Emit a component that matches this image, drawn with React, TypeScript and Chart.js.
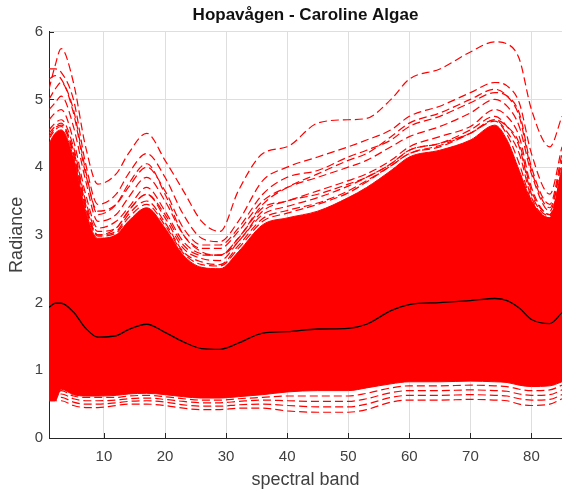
import React, { useEffect, useRef } from "react";
import { Chart, registerables } from "chart.js";

Chart.register(...registerables);

// spectral band positions where values were read
const bands = [1, 2, 3, 5, 7, 9, 12, 14, 17, 20, 23, 26, 29, 32, 36, 40, 45, 50, 53, 57, 60, 65, 70, 74, 76, 78, 80, 83, 85];

// mean spectrum (black line)
const meanRadiance = [1.93, 1.99, 1.99, 1.86, 1.62, 1.49, 1.51, 1.6, 1.68, 1.56, 1.42, 1.32, 1.31, 1.4, 1.55, 1.57, 1.61, 1.62, 1.68, 1.88, 1.97, 2.0, 2.03, 2.06, 2.03, 1.92, 1.75, 1.69, 1.85];

// dense core of spectra (upper / lower edges)
const coreUpper = [4.35, 4.5, 4.55, 4.15, 3.35, 2.95, 3.0, 3.2, 3.4, 3.1, 2.7, 2.52, 2.5, 2.75, 3.15, 3.25, 3.35, 3.55, 3.7, 3.95, 4.15, 4.25, 4.4, 4.62, 4.4, 3.95, 3.5, 3.25, 4.0];
const coreLower = [0.55, 0.55, 0.72, 0.64, 0.62, 0.62, 0.63, 0.65, 0.66, 0.64, 0.61, 0.59, 0.59, 0.61, 0.64, 0.68, 0.7, 0.7, 0.74, 0.8, 0.83, 0.83, 0.84, 0.83, 0.82, 0.78, 0.76, 0.77, 0.83];

// individual bright spectra above the core
const spec1 = [5.15, 5.5, 5.75, 5.25, 4.3, 3.75, 3.9, 4.2, 4.5, 4.1, 3.65, 3.2, 3.05, 3.65, 4.2, 4.3, 4.65, 4.7, 4.72, 5.0, 5.3, 5.45, 5.7, 5.85, 5.82, 5.6, 4.85, 4.3, 4.75];
const spec2 = [5.45, 5.45, 5.4, 5.0, 4.05, 3.45, 3.6, 3.9, 4.2, 3.85, 3.3, 2.95, 2.9, 3.2, 3.8, 4.0, 4.15, 4.3, 4.4, 4.55, 4.75, 4.9, 5.1, 5.25, 5.2, 4.95, 4.2, 3.6, 4.3];
const spec3 = [5.0, 5.15, 5.25, 4.8, 3.9, 3.35, 3.45, 3.7, 4.0, 3.65, 3.1, 2.85, 2.85, 3.1, 3.6, 3.85, 3.95, 4.15, 4.25, 4.4, 4.6, 4.75, 4.95, 5.1, 5.05, 4.8, 4.0, 3.45, 4.2];
const spec4 = [4.85, 4.95, 5.05, 4.6, 3.8, 3.2, 3.3, 3.55, 3.85, 3.5, 3.0, 2.8, 2.8, 3.05, 3.5, 3.7, 3.85, 4.0, 4.1, 4.3, 4.45, 4.6, 4.8, 5.0, 4.9, 4.6, 3.9, 3.35, 4.1];
const spec5 = [4.7, 4.8, 4.85, 4.4, 3.6, 3.1, 3.2, 3.4, 3.7, 3.35, 2.9, 2.72, 2.7, 2.95, 3.4, 3.5, 3.65, 3.8, 3.9, 4.1, 4.3, 4.45, 4.6, 4.85, 4.75, 4.45, 3.7, 3.3, 3.95];
const spec6 = [4.55, 4.65, 4.7, 4.3, 3.5, 3.05, 3.1, 3.35, 3.6, 3.25, 2.8, 2.65, 2.62, 2.9, 3.3, 3.42, 3.55, 3.72, 3.85, 4.05, 4.25, 4.35, 4.55, 4.75, 4.6, 4.3, 3.6, 3.28, 3.9];
const spec7 = [4.45, 4.58, 4.62, 4.25, 3.45, 3.0, 3.05, 3.3, 3.5, 3.18, 2.75, 2.6, 2.56, 2.84, 3.24, 3.36, 3.47, 3.65, 3.8, 4.02, 4.2, 4.3, 4.5, 4.7, 4.52, 4.2, 3.55, 3.25, 3.85];
const spec8 = [4.42, 4.55, 4.6, 4.2, 3.4, 2.98, 3.03, 3.25, 3.45, 3.14, 2.73, 2.56, 2.54, 2.8, 3.2, 3.32, 3.45, 3.62, 3.78, 4.02, 4.2, 4.32, 4.5, 4.68, 4.48, 4.05, 3.5, 3.24, 3.9];
const spec9 = [4.5, 4.6, 4.65, 4.2, 3.4, 3.0, 3.1, 3.35, 3.6, 3.3, 2.85, 2.7, 2.7, 2.95, 3.45, 3.7, 3.9, 4.1, 4.2, 4.45, 4.65, 4.8, 5.0, 5.15, 5.05, 4.75, 3.95, 3.4, 4.1];
const spec10 = [5.3, 5.35, 5.3, 4.85, 3.95, 3.3, 3.45, 3.75, 4.05, 3.6, 3.0, 2.75, 2.7, 2.9, 3.35, 3.5, 3.6, 3.75, 3.85, 4.05, 4.25, 4.35, 4.5, 4.7, 4.6, 4.35, 3.65, 3.3, 3.9];

// individual dark spectra below the core
const low1 = [0.55, 0.55, 0.55, 0.48, 0.45, 0.45, 0.48, 0.5, 0.5, 0.48, 0.44, 0.42, 0.42, 0.44, 0.44, 0.4, 0.38, 0.38, 0.42, 0.53, 0.56, 0.56, 0.57, 0.56, 0.55, 0.5, 0.48, 0.5, 0.58];
const low2 = [0.58, 0.58, 0.6, 0.53, 0.5, 0.5, 0.52, 0.54, 0.55, 0.53, 0.49, 0.47, 0.47, 0.49, 0.5, 0.48, 0.46, 0.46, 0.5, 0.6, 0.63, 0.63, 0.64, 0.63, 0.62, 0.58, 0.56, 0.57, 0.64];
const low3 = [0.6, 0.62, 0.65, 0.58, 0.55, 0.55, 0.56, 0.58, 0.59, 0.57, 0.54, 0.52, 0.52, 0.54, 0.56, 0.55, 0.54, 0.54, 0.58, 0.67, 0.7, 0.7, 0.71, 0.7, 0.69, 0.65, 0.63, 0.64, 0.71];
const low4 = [0.62, 0.64, 0.7, 0.62, 0.6, 0.6, 0.6, 0.62, 0.63, 0.61, 0.58, 0.56, 0.56, 0.58, 0.6, 0.62, 0.62, 0.62, 0.66, 0.74, 0.77, 0.77, 0.78, 0.77, 0.76, 0.72, 0.7, 0.71, 0.78];

const xTicks = [10, 20, 30, 40, 50, 60, 70, 80];
const yTicks = [0, 1, 2, 3, 4, 5, 6];

const titleText = "Hopavågen - Caroline Algae";
const xLabel = "spectral band";
const yLabel = "Radiance";

const FONT = "'Liberation Sans', Arial, Helvetica, sans-serif";
const RED = "#ff0000";

const toPts = (vals: number[]) => bands.map((b, i) => ({ x: b, y: vals[i] }));

export default function App() {
  const ref = useRef<HTMLCanvasElement>(null);

  useEffect(() => {
    if (!ref.current) return;

    const dashed = (vals: number[]) => ({
      data: toPts(vals),
      borderColor: RED,
      borderWidth: 1.2,
      borderDash: [8, 4],
      pointRadius: 0,
      fill: false,
      cubicInterpolationMode: "monotone" as const,
      order: 2,
    });

    const inwardTicks = {
      id: "inwardTicks",
      beforeDatasetsDraw(chart: any) {
        const { ctx, chartArea, scales } = chart;
        ctx.save();
        ctx.strokeStyle = "#262626";
        ctx.lineWidth = 1;
        xTicks.forEach((v) => {
          const px = Math.round(scales.x.getPixelForValue(v)) + 0.5;
          ctx.beginPath();
          ctx.moveTo(px, chartArea.bottom);
          ctx.lineTo(px, chartArea.bottom - 5);
          ctx.stroke();
        });
        yTicks.forEach((v) => {
          const py = Math.round(scales.y.getPixelForValue(v)) + 0.5;
          ctx.beginPath();
          ctx.moveTo(chartArea.left, py);
          ctx.lineTo(chartArea.left + 5, py);
          ctx.stroke();
        });
        ctx.restore();
      },
    };

    const chart = new Chart(ref.current, {
      type: "line",
      data: {
        datasets: [
          {
            label: "mean",
            data: toPts(meanRadiance),
            borderColor: "#000000",
            borderWidth: 1.3,
            pointRadius: 0,
            fill: false,
            cubicInterpolationMode: "monotone",
            order: 0,
          },
          {
            label: "coreLower",
            data: toPts(coreLower),
            borderColor: RED,
            borderWidth: 1,
            pointRadius: 0,
            fill: false,
            cubicInterpolationMode: "monotone",
            order: 3,
          },
          {
            label: "coreUpper",
            data: toPts(coreUpper),
            borderColor: RED,
            backgroundColor: RED,
            borderWidth: 1,
            pointRadius: 0,
            fill: "-1",
            cubicInterpolationMode: "monotone",
            order: 3,
          },
          dashed(spec1),
          dashed(spec2),
          dashed(spec3),
          dashed(spec4),
          dashed(spec5),
          dashed(spec6),
          dashed(spec7),
          dashed(spec8),
          dashed(spec9),
          dashed(spec10),
          dashed(low1),
          dashed(low2),
          dashed(low3),
          dashed(low4),
        ] as any,
      },
      options: {
        animation: false,
        responsive: false,
        devicePixelRatio: 1,
        layout: { padding: { left: 0, right: 0, top: 0, bottom: 0 } },
        plugins: {
          legend: { display: false },
          tooltip: { enabled: false },
          title: {
            display: true,
            fullSize: false,
            text: titleText,
            color: "#111111",
            font: { family: FONT, size: 17, weight: "bold" },
            padding: { top: 5.5, bottom: 5.8 },
          },
        },
        scales: {
          x: {
            type: "linear",
            min: 1,
            max: 85,
            afterBuildTicks: (s: any) => {
              s.ticks = xTicks.map((v) => ({ value: v }));
            },
            afterFit: (s: any) => {
              s.height = 57;
            },
            ticks: {
              color: "#404040",
              font: { family: FONT, size: 15 },
              padding: 10,
              maxRotation: 0,
              autoSkip: false,
            },
            grid: { color: "#dedede", lineWidth: 1, drawTicks: false },
            border: { color: "#262626", width: 1 },
            title: {
              display: true,
              text: xLabel,
              color: "#404040",
              font: { family: FONT, size: 18 },
              padding: { top: 0, bottom: 4 },
            },
          },
          y: {
            type: "linear",
            min: 0,
            max: 6,
            afterBuildTicks: (s: any) => {
              s.ticks = yTicks.map((v) => ({ value: v }));
            },
            afterFit: (s: any) => {
              s.width = 49;
            },
            ticks: {
              color: "#404040",
              font: { family: FONT, size: 15 },
              padding: 6,
            },
            grid: { color: "#dedede", lineWidth: 1, drawTicks: false },
            border: { color: "#262626", width: 1 },
            title: {
              display: true,
              text: yLabel,
              color: "#404040",
              font: { family: FONT, size: 18 },
              padding: { top: 6.5, bottom: 0 },
            },
          },
        },
      } as any,
      plugins: [inwardTicks],
    });

    return () => chart.destroy();
  }, []);

  return (
    <div style={{ position: "absolute", left: 0, top: 0, width: 562, height: 495, background: "#ffffff" }}>
      <canvas ref={ref} width={562} height={495} style={{ display: "block", width: 562, height: 495 }} />
    </div>
  );
}
